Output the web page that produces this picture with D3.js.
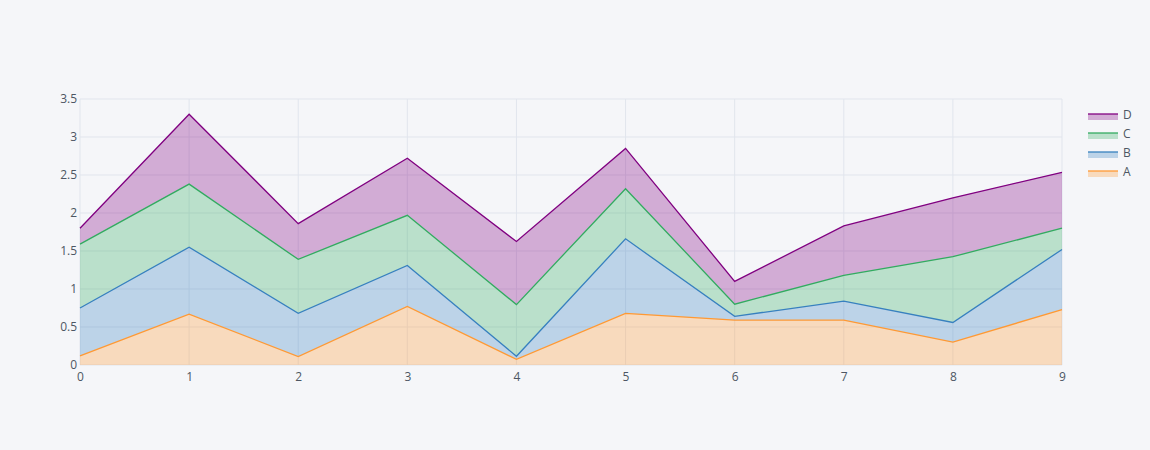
<!DOCTYPE html>
<html>
<head>
<meta charset="utf-8">
<script src="https://cdn.jsdelivr.net/npm/d3@7"></script>
<style>
  body { margin: 0; background: #F5F6F9; }
  svg { display: block; font-family: "Open Sans", Arial, sans-serif; }
</style>
</head>
<body>
<svg id="chart" width="1150" height="450"></svg>
<script>
// data
const xs = [0, 1, 2, 3, 4, 5, 6, 7, 8, 9];
const seriesNames = ['A', 'B', 'C', 'D'];
const valuesA = [0.12, 0.67, 0.11, 0.77, 0.075, 0.68, 0.59, 0.59, 0.30, 0.73];
const valuesB = [0.63, 0.88, 0.57, 0.54, 0.04, 0.98, 0.05, 0.25, 0.26, 0.79];
const valuesC = [0.84, 0.83, 0.71, 0.66, 0.68, 0.66, 0.16, 0.34, 0.865, 0.28];
const valuesD = [0.21, 0.92, 0.47, 0.75, 0.83, 0.53, 0.30, 0.65, 0.775, 0.735];
const yTicks = [0, 0.5, 1, 1.5, 2, 2.5, 3, 3.5];
const colors = ['rgb(255,153,51)', 'rgb(55,128,191)', 'rgb(50,171,96)', 'rgb(128,0,128)'];

const svg = d3.select('#chart');
const margin = { left: 80, right: 88, top: 99, bottom: 85 };
const width = 1150, height = 450;

const x = d3.scaleLinear()
    .domain([0, 9])
    .range([margin.left, width - margin.right]);

const y = d3.scaleLinear()
    .domain([0, 3.5])
    .range([height - margin.bottom, margin.top]);

const table = xs.map((v, i) => ({
    x: v, A: valuesA[i], B: valuesB[i], C: valuesC[i], D: valuesD[i]
}));
const stacked = d3.stack().keys(seriesNames)(table);

// background
svg.append('rect').attr('width', width).attr('height', height).attr('fill', '#F5F6F9');

// grid
const grid = svg.append('g');
grid.selectAll('.gy')
    .data(yTicks)
    .enter().append('line')
    .attr('x1', x(0)).attr('x2', x(9))
    .attr('y1', d => y(d)).attr('y2', d => y(d))
    .attr('stroke', '#E1E5ED').attr('stroke-width', 1);
grid.selectAll('.gx')
    .data(xs)
    .enter().append('line')
    .attr('x1', d => x(d)).attr('x2', d => x(d))
    .attr('y1', y(0)).attr('y2', y(3.5))
    .attr('stroke', '#E1E5ED').attr('stroke-width', 1);

const area = d3.area()
    .x(d => x(d.data.x))
    .y0(d => y(d[0]))
    .y1(d => y(d[1]));

const line = d3.line()
    .x(d => x(d.data.x))
    .y(d => y(d[1]));

svg.append('g')
    .selectAll('path')
    .data(stacked)
    .enter().append('path')
    .attr('d', area)
    .attr('fill', (d, i) => colors[i])
    .attr('fill-opacity', 0.3);

svg.append('g')
    .selectAll('path')
    .data(stacked)
    .enter().append('path')
    .attr('d', line)
    .attr('fill', 'none')
    .attr('stroke', (d, i) => colors[i])
    .attr('stroke-width', 1.3);

// axes
const xAxis = d3.axisBottom(x).tickValues(xs).tickSize(0).tickPadding(7);
const yAxis = d3.axisLeft(y).tickValues(yTicks).tickSize(0).tickPadding(3)
    .tickFormat(d3.format('~g'));

const gx = svg.append('g')
    .attr('transform', `translate(0,${y(0)})`)
    .call(xAxis);
const gy = svg.append('g')
    .attr('transform', `translate(${x(0)},0)`)
    .call(yAxis);

[gx, gy].forEach(g => {
    g.select('.domain').remove();
    g.selectAll('text')
        .attr('fill', '#4D5663')
        .style('font-size', '12px')
        .style('font-family', '"Open Sans", Arial, sans-serif');
});

// legend, reversed like the stack
const legend = svg.append('g').attr('transform', 'translate(1088,114)');
const items = legend.selectAll('g')
    .data(seriesNames.map((n, i) => ({ name: n, color: colors[i] })).reverse())
    .enter().append('g')
    .attr('transform', (d, i) => `translate(0,${i * 19})`);
items.append('rect')
    .attr('x', 0).attr('y', 0).attr('width', 30).attr('height', 6)
    .attr('fill', d => d.color).attr('fill-opacity', 0.3);
items.append('line')
    .attr('x1', 0).attr('x2', 30).attr('y1', 0).attr('y2', 0)
    .attr('stroke', d => d.color).attr('stroke-width', 1.3);
items.append('text')
    .attr('x', 35).attr('y', 4.5)
    .attr('fill', '#4D5663')
    .style('font-size', '12px')
    .text(d => d.name);
</script>
</body>
</html>
